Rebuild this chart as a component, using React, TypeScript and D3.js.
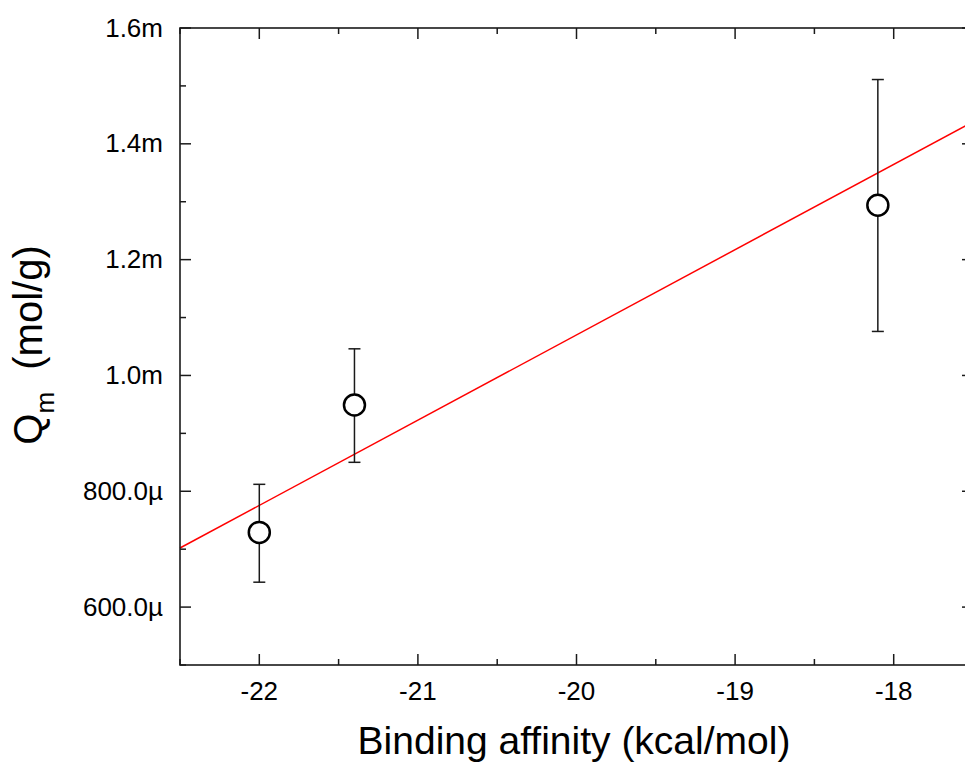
import React from 'react';
import * as d3 from 'd3';

// binding affinity (kcal/mol) vs Qm (mol/g)
const affinity = [-22.0, -21.4, -18.1];
const qm = [0.729e-3, 0.949e-3, 1.294e-3];
const qmLow = [0.643e-3, 0.850e-3, 1.076e-3];
const qmHigh = [0.812e-3, 1.046e-3, 1.511e-3];

// linear fit end points
const fitX = [-22.5, -17.5];
const fitY = [0.702e-3, 1.438e-3];

const xTicks = [-22, -21, -20, -19, -18];
const yTicks = [0.6e-3, 0.8e-3, 1.0e-3, 1.2e-3, 1.4e-3, 1.6e-3];
const yTickLabels = ['600.0µ', '800.0µ', '1.0m', '1.2m', '1.4m', '1.6m'];

const W = 965;
const H = 763;

export default function App() {
  const margin = { top: 28, right: -8, bottom: 98, left: 180 };
  const width = W - margin.left - margin.right;
  const height = H - margin.top - margin.bottom;

  const xScale = d3.scaleLinear().domain([-22.5, -17.5]).range([0, width]);
  const yScale = d3.scaleLinear().domain([0.5e-3, 1.6e-3]).range([height, 0]);

  const xMinor = d3.range(-22.5, -17.4, 0.5).filter(v => !xTicks.includes(v));
  const yMinor = d3.range(0.5e-3, 1.61e-3, 0.1e-3).filter(
    v => !yTicks.some(t => Math.abs(t - v) < 1e-9)
  );

  const font = '"Liberation Sans", Arial, sans-serif';
  const axisColor = '#1a1a1a';
  const major = 11;
  const minor = 6;

  const fitLine = d3
    .line<number>()
    .x((d, i) => xScale(fitX[i]))
    .y(d => yScale(d));

  return (
    <svg
      width={W}
      height={H}
      style={{ position: 'absolute', left: 0, top: 0, background: '#fff' }}
      fontFamily={font}
    >
      <g transform={'translate(' + margin.left + ',' + margin.top + ')'}>
        {/* fit */}
        <path d={fitLine(fitY) || ''} fill="none" stroke="#ff0000" strokeWidth={1.5} />

        {/* error bars */}
        {affinity.map((a, i) => {
          const x = xScale(a);
          return (
            <g key={'e' + i} stroke={axisColor} strokeWidth={1.5}>
              <line x1={x} x2={x} y1={yScale(qmLow[i])} y2={yScale(qmHigh[i])} />
              <line x1={x - 6} x2={x + 6} y1={yScale(qmLow[i])} y2={yScale(qmLow[i])} />
              <line x1={x - 6} x2={x + 6} y1={yScale(qmHigh[i])} y2={yScale(qmHigh[i])} />
            </g>
          );
        })}

        {/* points */}
        {affinity.map((a, i) => (
          <circle
            key={'p' + i}
            cx={xScale(a)}
            cy={yScale(qm[i])}
            r={10.5}
            fill="#fff"
            stroke="#000"
            strokeWidth={2.5}
          />
        ))}

        {/* frame */}
        <rect
          x={0}
          y={0}
          width={width}
          height={height}
          fill="none"
          stroke={axisColor}
          strokeWidth={1.6}
        />

        {/* x ticks bottom & top */}
        {xTicks.map(t => (
          <g key={'xt' + t} stroke={axisColor} strokeWidth={1.5}>
            <line x1={xScale(t)} x2={xScale(t)} y1={height} y2={height - major} />
            <line x1={xScale(t)} x2={xScale(t)} y1={0} y2={major} />
          </g>
        ))}
        {xMinor.map(t => (
          <g key={'xm' + t} stroke={axisColor} strokeWidth={1.5}>
            <line x1={xScale(t)} x2={xScale(t)} y1={height} y2={height - minor} />
            <line x1={xScale(t)} x2={xScale(t)} y1={0} y2={minor} />
          </g>
        ))}
        {xTicks.map(t => (
          <text
            key={'xl' + t}
            x={xScale(t)}
            y={height + 35}
            textAnchor="middle"
            fontSize={26}
            fill="#000"
          >
            {String(t)}
          </text>
        ))}

        {/* y ticks left & right */}
        {yTicks.map(t => (
          <g key={'yt' + t} stroke={axisColor} strokeWidth={1.5}>
            <line x1={0} x2={major} y1={yScale(t)} y2={yScale(t)} />
            <line x1={width} x2={width - major} y1={yScale(t)} y2={yScale(t)} />
          </g>
        ))}
        {yMinor.map(t => (
          <g key={'ym' + t} stroke={axisColor} strokeWidth={1.5}>
            <line x1={0} x2={minor} y1={yScale(t)} y2={yScale(t)} />
            <line x1={width} x2={width - minor} y1={yScale(t)} y2={yScale(t)} />
          </g>
        ))}
        {yTicks.map((t, i) => (
          <text
            key={'yl' + t}
            x={-17}
            y={yScale(t)}
            dy="0.33em"
            textAnchor="end"
            fontSize={26}
            fill="#000"
          >
            {yTickLabels[i]}
          </text>
        ))}
      </g>

      {/* axis titles */}
      <text x={574} y={754} textAnchor="middle" fontSize={39} fill="#000">
        Binding affinity (kcal/mol)
      </text>
      <text
        transform="translate(42,345) rotate(-90)"
        textAnchor="middle"
        fontSize={40}
        fill="#000"
      >
        Q<tspan fontSize={26} dy={12}>m</tspan>
        <tspan dy={-12}>{'\u00a0 (mol/g)'}</tspan>
      </text>
    </svg>
  );
}
